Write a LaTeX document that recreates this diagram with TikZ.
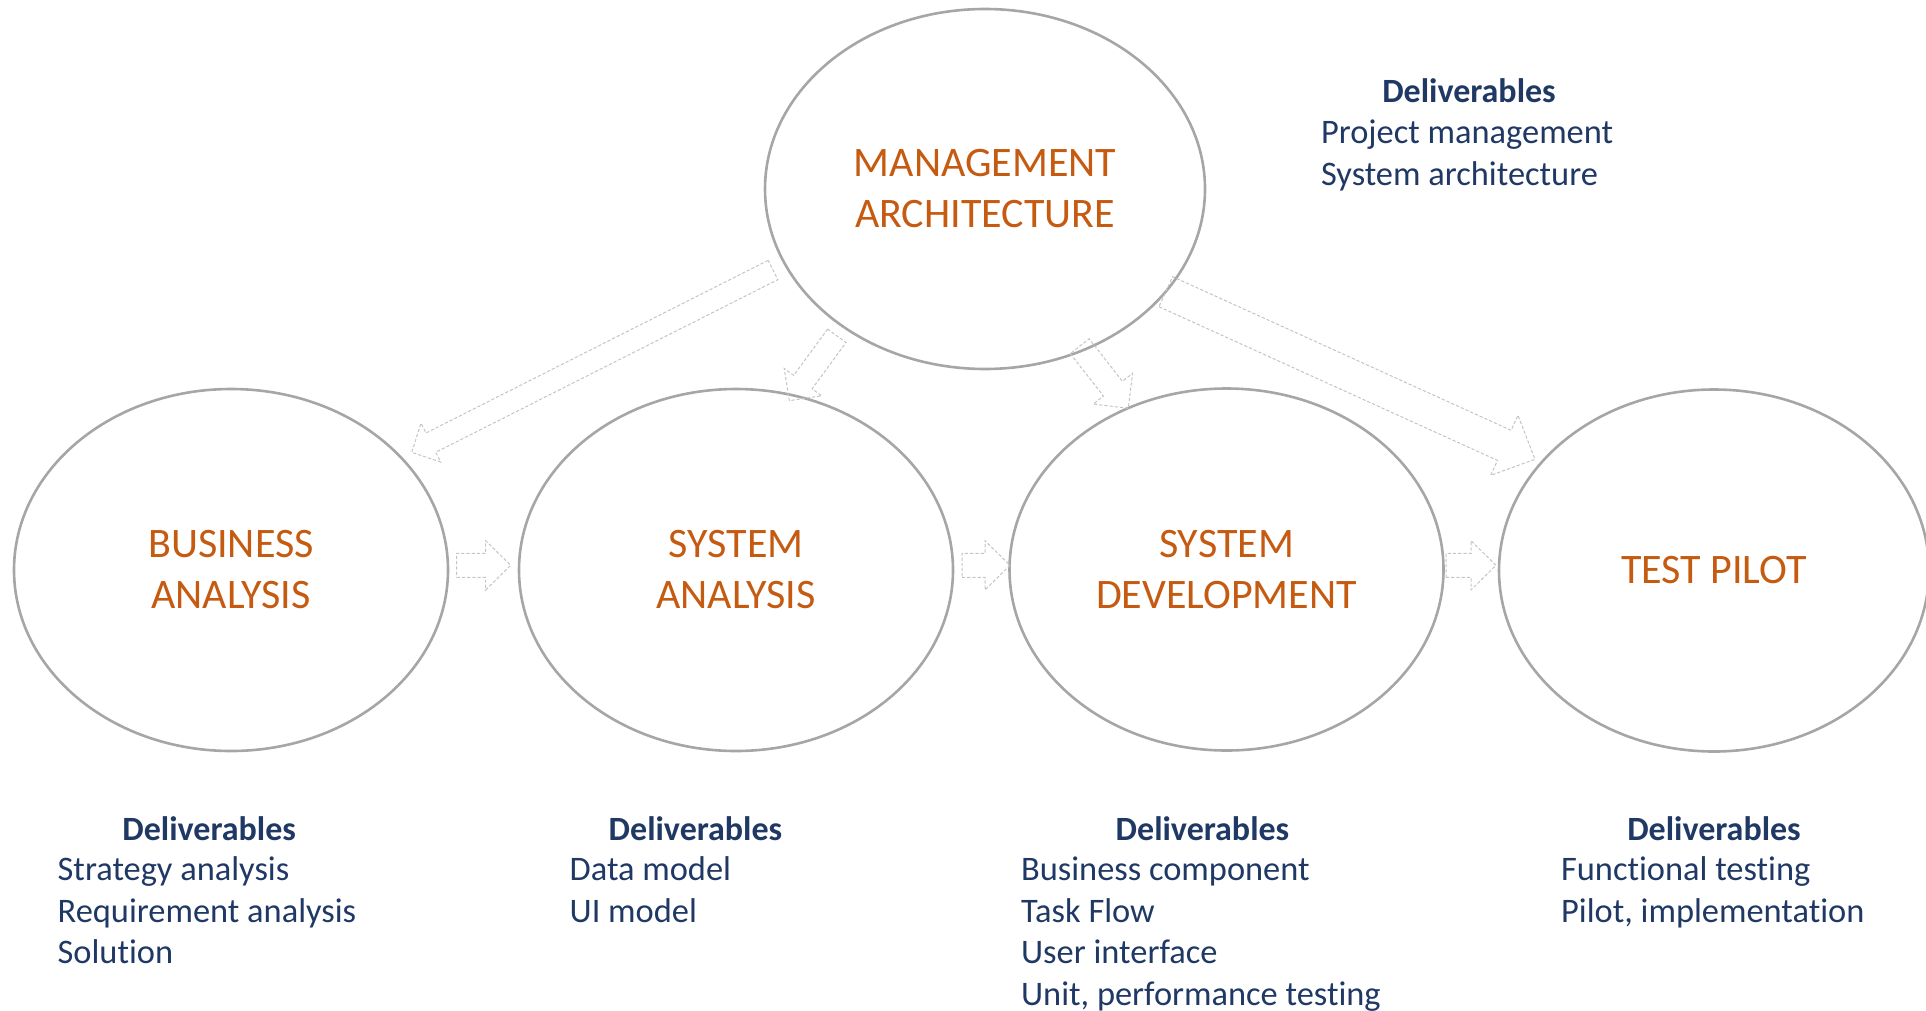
\documentclass[tikz,border=0pt]{standalone}
\usepackage{fontspec}
\setmainfont{Carlito}[Ligatures=NoCommon]
\usetikzlibrary{shapes.geometric,calc}
\definecolor{ringgray}{HTML}{A6A6A6}
\definecolor{arrowgray}{HTML}{C4C4C4}
\definecolor{titleorange}{HTML}{C55A11}
\definecolor{navy}{HTML}{1F3864}
\tikzset{
  phase/.style={ellipse, draw=ringgray, line width=1.3pt, inner sep=0pt,
    text=titleorange, align=center, font=\fontsize{21}{25.5}\selectfont},
  blockarrow/.style={draw=arrowgray, line width=0.5pt, dash pattern=on 1.6pt off 1pt, line join=miter},
  delhead/.style={anchor=base, inner sep=0pt, text=navy, font=\fontsize{17}{20.85}\selectfont\bfseries},
  delitem/.style={anchor=base west, inner sep=0pt, text=navy, font=\fontsize{17.2}{20.85}\selectfont}
}
\newcommand\blkarrow[5]{%
  \path let \p1=(#1), \p2=(#2) in
    \pgfextra{\pgfmathsetmacro\bkang{atan2(\y2-\y1,\x2-\x1)}%
      \pgfmathsetmacro\bklen{veclen(\x2-\x1,\y2-\y1)}%
      \global\let\bkangG\bkang \global\let\bklenG\bklen};
  \begin{scope}[shift={(#1)}, rotate=\bkangG, x=1pt, y=1pt]
    \draw[blockarrow] (0,-#3) -- ({\bklenG-#5},-#3) -- ({\bklenG-#5},-#4) -- (\bklenG,0)
      -- ({\bklenG-#5},#4) -- ({\bklenG-#5},#3) -- (0,#3) -- cycle;
  \end{scope}}
\begin{document}
\begin{tikzpicture}[x=0.5pt, y=-0.5pt]
\useasboundingbox (0,0) rectangle (1926,1011);

% phases
\node[phase, minimum width=220pt, minimum height=180pt] (mgmt) at (985,189) {MANAGEMENT\\ARCHITECTURE};
\node[phase, minimum width=217pt, minimum height=181pt] (ba) at (231,570) {BUSINESS\\ANALYSIS};
\node[phase, minimum width=217pt, minimum height=181pt] (sa) at (736,570) {SYSTEM\\ANALYSIS};
\node[phase, minimum width=217pt, minimum height=181pt] (sd) at (1226.5,569.5) {SYSTEM\\DEVELOPMENT};
\node[phase, minimum width=215pt, minimum height=181pt] (tp) at (1714,570.5) {TEST PILOT};

% block arrow end points
\coordinate (aT) at (773,270);     \coordinate (aH) at (411.7,452.3);
\coordinate (bT) at (836.8,335.8); \coordinate (bH) at (789.3,400.7);
\coordinate (cT) at (1079.7,346.2);\coordinate (cH) at (1128.3,408.3);
\coordinate (dT) at (1165.8,291.7);\coordinate (dH) at (1535,459.3);
\coordinate (h1T) at (456.7,565.3); \coordinate (h1H) at (510.7,565.3);
\coordinate (h2T) at (962,565.3);   \coordinate (h2H) at (1010,565.3);
\coordinate (h3T) at (1446,565.3);  \coordinate (h3H) at (1496,565.3);

\blkarrow{aT}{aH}{5.4}{10.9}{10.7}
\blkarrow{bT}{bH}{5.7}{11.6}{11.5}
\blkarrow{cT}{cH}{6}{12.45}{12.45}
\blkarrow{dT}{dH}{8.25}{16.5}{16.85}
\blkarrow{h1T}{h1H}{6}{12.3}{12.5}
\blkarrow{h2T}{h2H}{6}{12.3}{12.5}
\blkarrow{h3T}{h3H}{6}{12.3}{12.5}

% deliverables: management
\node[delhead] (mgmtD) at (1469,102.5) {Deliverables};
\node[delitem] (mgmt1) at (1320.7,143.5) {Project management};
\node[delitem] (mgmt2) at (1320.7,185.5) {System architecture};

% deliverables: business analysis
\node[delhead] (baD) at (209.2,840) {Deliverables};
\node[delitem] (ba1) at (57.3,880.5) {Strategy analysis};
\node[delitem] (ba2) at (57.3,922.2) {Requirement analysis};
\node[delitem] (ba3) at (57.3,963.9) {Solution};

% deliverables: system analysis
\node[delhead] (saD) at (695.5,840) {Deliverables};
\node[delitem] (sa1) at (569.3,880.5) {Data model};
\node[delitem] (sa2) at (569.3,922.2) {UI model};

% deliverables: system development
\node[delhead] (sdD) at (1202.5,840) {Deliverables};
\node[delitem] (sd1) at (1020.7,880.5) {Business component};
\node[delitem] (sd2) at (1020.7,922.2) {Task Flow};
\node[delitem] (sd3) at (1020.7,963.9) {User interface};
\node[delitem] (sd4) at (1020.7,1005.5) {Unit, performance testing};

% deliverables: test pilot
\node[delhead] (tpD) at (1714,840) {Deliverables};
\node[delitem] (tp1) at (1560.7,880.5) {Functional testing};
\node[delitem] (tp2) at (1560.7,922.2) {Pilot, implementation};
\end{tikzpicture}
\end{document}
